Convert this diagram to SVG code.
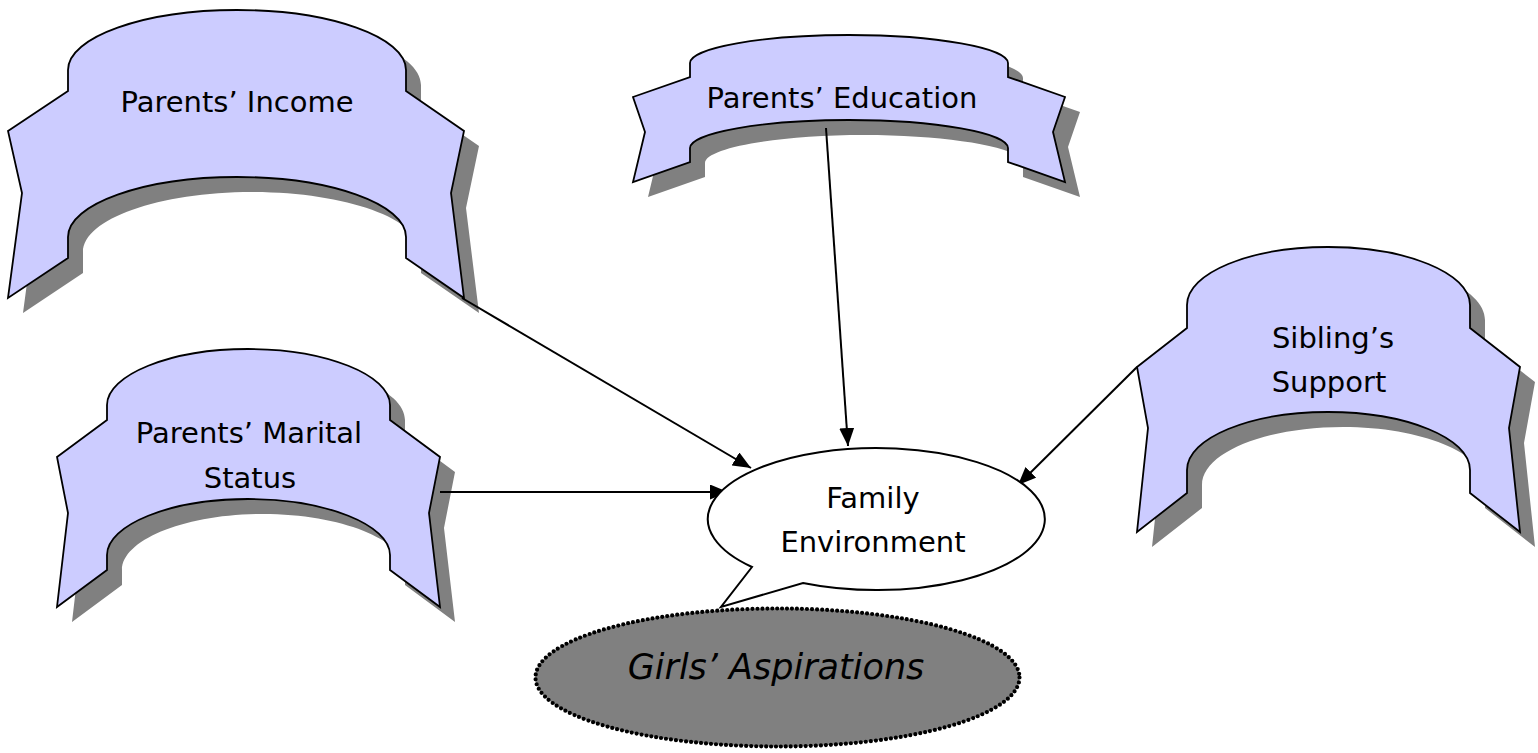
<svg xmlns="http://www.w3.org/2000/svg" width="1538" height="753" viewBox="0 0 1538 753">
<style>
.shadow{fill:#808080;stroke:none}
.banner{fill:#CCCCFF;stroke:#000;stroke-width:1.8;stroke-linejoin:miter}
.lbl{font-family:"Comic Sans MS","DejaVu Sans",sans-serif;font-size:29px;fill:#000;text-anchor:middle}
.conn{stroke:#000;stroke-width:2;fill:none}
</style>
<defs>
<marker id="arr" markerUnits="userSpaceOnUse" markerWidth="19" markerHeight="15" refX="18" refY="7.5" orient="auto">
<path d="M0,0 L18,7.5 L0,15 Z" fill="#000"/>
</marker>
<path id="b-income" d="M8,131 L68,91 L68,70 C68,37 144,10 237,10 C330,10 406,37 406,70 L406,91 L464,131 L451,193 L464,298 L406,258 L406,237 C406,204 330,177 237,177 C144,177 68,204 68,237 L68,258 L8,298 L22,193 Z"/>
<path id="b-edu" d="M633,97 L690,77 L690,63 C690,48 762,35 849,35 C936,35 1008,48 1008,63 L1008,77 L1065,97 L1053,132 L1065,182 L1008,162 L1008,148 C1008,133 936,120 849,120 C762,120 690,133 690,148 L690,162 L633,182 L645,132 Z"/>
<path id="b-sib" d="M1137,367 L1187,328 L1187,305 C1187,273 1250,247 1328,247 C1406,247 1470,273 1470,305 L1470,328 L1520,367 L1509,428 L1520,532 L1470,493 L1470,470 C1470,438 1406,412 1328,412 C1250,412 1187,438 1187,470 L1187,493 L1137,532 L1148,428 Z"/>
<path id="b-mar" d="M57,457 L107,420 L107,405 C107,375 170,349 248,349 C326,349 390,375 390,405 L390,420 L440,457 L429,513 L440,607 L390,570 L390,555 C390,525 326,499 248,499 C170,499 107,525 107,555 L107,570 L57,607 L68,513 Z"/>
</defs>
<rect width="1538" height="753" fill="#fff"/>

<g id="node-parents-income">
<use href="#b-income" class="shadow" transform="translate(15,15)"/>
<use href="#b-income" class="banner"/>
<text class="lbl" x="237" y="112">Parents’ Income</text>
</g>

<g id="node-parents-education">
<use href="#b-edu" class="shadow" transform="translate(15,15)"/>
<use href="#b-edu" class="banner"/>
<text class="lbl" x="842" y="108">Parents’ Education</text>
</g>

<g id="node-siblings-support">
<use href="#b-sib" class="shadow" transform="translate(15,15)"/>
<use href="#b-sib" class="banner"/>
<text class="lbl" x="1333" y="348">Sibling’s</text>
<text class="lbl" x="1329" y="392">Support</text>
</g>

<g id="node-parents-marital">
<use href="#b-mar" class="shadow" transform="translate(15,15)"/>
<use href="#b-mar" class="banner"/>
<text class="lbl" x="249" y="443">Parents’ Marital</text>
<text class="lbl" x="250" y="488">Status</text>
</g>

<g id="connectors">
<line class="conn" x1="462" y1="298" x2="751" y2="468" marker-end="url(#arr)"/>
<line class="conn" x1="826" y1="128" x2="848" y2="446" marker-end="url(#arr)"/>
<line class="conn" x1="440" y1="492" x2="728" y2="492" marker-end="url(#arr)"/>
<line class="conn" x1="1137" y1="367" x2="1018" y2="485" marker-end="url(#arr)"/>
</g>

<g id="node-family-environment">
<path d="M752,567 A168.5,71 0 1 1 803,583 L721,607 Z" fill="#fff" stroke="#000" stroke-width="2" stroke-linejoin="miter"/>
<text class="lbl" x="873" y="508">Family</text>
<text class="lbl" x="873" y="552">Environment</text>
</g>

<g id="node-girls-aspirations">
<ellipse cx="777.5" cy="677.5" rx="242" ry="69" fill="#808080" stroke="#000" stroke-width="4.2" stroke-dasharray="0 5" stroke-linecap="round"/>
<text class="lbl" x="776" y="679" style="font-size:35px;font-style:italic">Girls’ Aspirations</text>
</g>
</svg>
